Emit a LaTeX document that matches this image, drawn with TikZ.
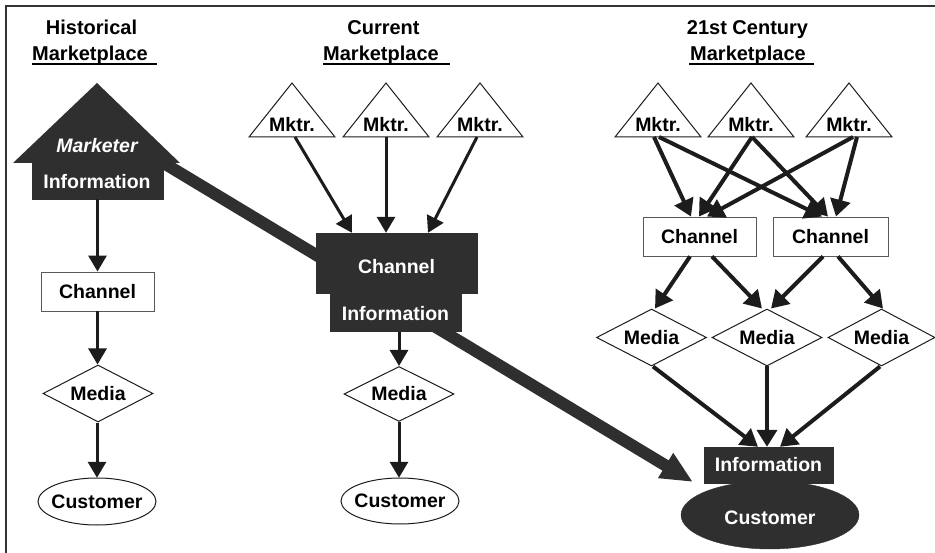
\documentclass[tikz,border=0pt]{standalone}
\usepackage{fontspec}
\setmainfont{Liberation Sans}
\usetikzlibrary{arrows.meta,shapes.geometric,calc}
\definecolor{dk}{HTML}{2F2F2F}
\definecolor{ln}{HTML}{1C1C1C}
\newcommand\mktri[2]{%
  \draw[tri] ({#2-43},137) -- (#2,83) -- ({#2+43},137) -- cycle;
  \node[txt] (#1) at (#2,124.5) {Mktr.};
  \coordinate (#1b) at (#2,137);
}
\begin{document}
\begin{tikzpicture}[x=1pt,y=-1pt,
  txt/.style={font=\fontsize{19.5}{22}\selectfont\bfseries, inner sep=0pt},
  wtxt/.style={txt,text=white},
  ttl/.style={font=\fontsize{20}{24}\selectfont\bfseries, inner sep=0pt, anchor=base},
  wbox/.style={draw=black!65, line width=0.9pt, fill=white, inner sep=0pt, txt},
  dbox/.style={fill=dk, draw=dk, inner sep=0pt},
  med/.style={diamond, draw=ln, line width=1pt, fill=white, inner sep=0pt, minimum width=110pt, minimum height=57pt, aspect=1.93, txt},
  tri/.style={draw=ln, line width=1pt, fill=white},
  arr/.style={draw=ln, line width=3pt, -{Triangle[width=18pt,length=16pt]}},
  arrb/.style={draw=ln, line width=4pt, -{Triangle[width=20pt,length=17pt]}},
  big/.style={draw=dk, line width=12pt, -{Triangle[width=27pt,length=32pt]}},
]
\useasboundingbox (0,0) rectangle (935,553);
% frame
\draw[line width=1.5pt, black!80] (6,553) -- (6,6) -- (935,6);

% titles
\node[ttl] (t1a) at (91.5,35) {Historical};
\node[ttl] (t1b) at (90,60.5) {Marketplace};
\draw[line width=1.6pt] (32,64) -- (157,64);
\node[ttl] (t2a) at (383.5,35) {Current};
\node[ttl] (t2b) at (381,60.5) {Marketplace};
\draw[line width=1.6pt] (323,64) -- (450,64);
\node[ttl] (t3a) at (747.5,35) {21st Century};
\node[ttl] (t3b) at (748,60.5) {Marketplace};
\draw[line width=1.6pt] (689,64) -- (814,64);

% house (historical marketer information)
\node[dbox, minimum width=131pt, minimum height=36pt] (hinfo) at (97.5,181) {};
\coordinate (bigE) at (693,482);
\draw[big] (hinfo.north east) -- (bigE);
\fill[dk] (hinfo.north west) -- (13,163) -- (97,83) -- (180,163) -- (hinfo.north east) -- cycle;
\node[dbox, minimum width=131pt, minimum height=36pt] (hinfo2) at (97.5,181) {};
\node[wtxt] (mk) at (97,145.5) {\itshape Marketer};
\node[wtxt] (hinfoT) at (97,181.5) {Information};

% historical column
\node[wbox, minimum width=113pt, minimum height=39pt] (hch) at (97.5,291.5) {Channel};
\node[med] (hmed) at (98,393.5) {Media};
\node[txt, minimum width=118pt, minimum height=47pt] (hcu) at (97,501.5) {Customer};
\draw[ln, line width=1pt] (hcu.center) ellipse [x radius=59pt, y radius=23.5pt];
\draw[arr] (hinfo2.south -| hch.north) -- (hch.north);
\draw[arr] (hch.south) -- (hch.south |- hmed.north);
\draw[arr] (hmed.south -| hcu.north) -- (hcu.north);

% current column
\mktri{c1}{292}
\mktri{c2}{386}
\mktri{c3}{480}
\node[dbox, minimum width=161pt, minimum height=60pt] (cch) at (396.5,263) {};
\node[dbox, minimum width=131pt, minimum height=39pt] (cinf) at (395.5,312) {};
\node[wtxt] (cchT) at (396.5,266.5) {Channel};
\node[wtxt] (cinfT) at (395.5,313.5) {Information};
\draw[arr] ($(c1b)+(3,0)$) -- ($(cch.north)+(-44.5,0)$);
\draw[arr] (c2b) -- (c2b |- cch.north);
\draw[arr] ($(c3b)+(-3,0)$) -- ($(cch.north)+(31.5,0)$);
\node[med, minimum height=55pt] (cmed) at (399,394) {Media};
\node[txt, minimum width=118pt, minimum height=46pt] (ccu) at (400,501) {Customer};
\draw[ln, line width=1pt] (ccu.center) ellipse [x radius=59pt, y radius=23pt];
\draw[arr] (cmed.north |- cinf.south) -- (cmed.north);
\draw[arr] (cmed.south) -- (cmed.south |- ccu.north);

% 21st century column
\mktri{a1}{658}
\mktri{a2}{751}
\mktri{a3}{849}
\node[wbox, minimum width=113pt, minimum height=39pt] (ch1) at (699.5,236.5) {Channel};
\node[wbox, minimum width=115pt, minimum height=39pt] (ch2) at (830.5,236.5) {Channel};
\draw[arrb] ($(a1b)+(-4,0)$) -- ($(ch1.north)+(-8.5,0)$);
\draw[arrb] ($(a1b)+(1,0)$) -- ($(ch2.north)+(-8.5,0)$);
\draw[arrb] ($(a2b)+(1,0)$) -- ($(ch1.north)+(-0.5,0)$);
\draw[arrb] ($(a2b)+(1,0)$) -- ($(ch2.north)+(-2.5,0)$);
\draw[arrb] ($(a3b)+(4,0)$) -- ($(ch1.north)+(7.5,0)$);
\draw[arrb] ($(a3b)+(8,0)$) -- ($(ch2.north)+(5.5,0)$);
\node[med] (m1) at (651.5,337.5) {Media};
\node[med] (m2) at (767,337.5) {Media};
\node[med, minimum width=107pt] (m3) at (881.5,337.5) {Media};
\draw[arrb] ($(ch1.south)+(-9.5,0)$) -- ($(m1.north)+(3.5,0)$);
\draw[arrb] ($(ch1.south)+(12.5,0)$) -- ($(m2.north)+(-5,0)$);
\draw[arrb] ($(ch2.south)+(-7.5,0)$) -- ($(m2.north)+(4,0)$);
\draw[arrb] ($(ch2.south)+(7.5,0)$) -- ($(m3.north)+(1.5,0)$);
\node[fill=dk, draw=dk, ellipse, minimum width=178pt, minimum height=68pt, inner sep=0pt] (cu3) at (770,515) {};
\node[wtxt] (cu3T) at (770,517.5) {Customer};
\node[dbox, wtxt, minimum width=129pt, minimum height=36pt] (inf3) at (768.5,465) {Information};
\draw[arrb] ($(m1.south)+(1.5,0)$) -- ($(inf3.north)+(-10.5,0)$);
\draw[arrb] (m2.south) -- (inf3.north -| m2.south);
\draw[arrb] ($(m3.south)+(-1.5,0)$) -- ($(inf3.north)+(11.5,0)$);
\end{tikzpicture}
\end{document}
